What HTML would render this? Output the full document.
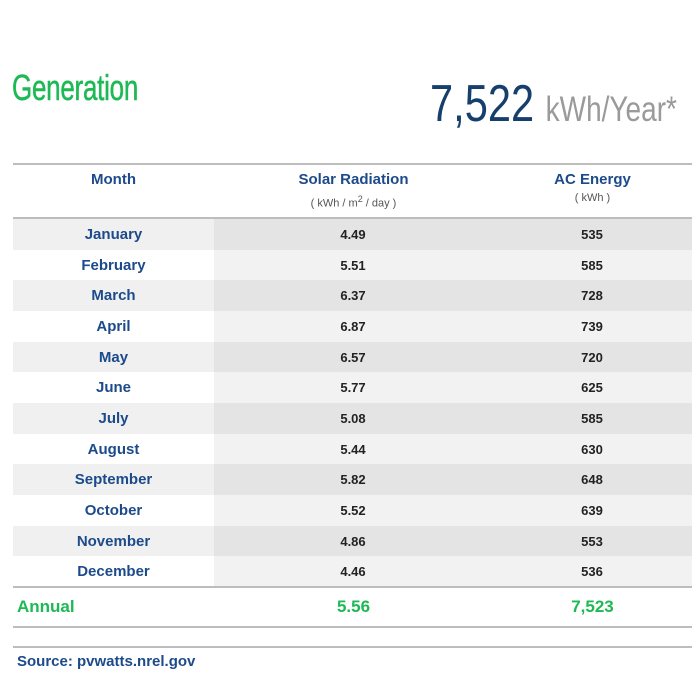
<!DOCTYPE html>
<html><head><meta charset="utf-8"><style>
body{margin:0;width:700px;height:700px;background:#fff;font-family:"Liberation Sans",sans-serif;position:relative;overflow:hidden}
.a{position:absolute}
.gen{left:12px;top:67px;font-size:36px;color:#1db954;transform:scaleX(0.72);transform-origin:left;letter-spacing:-0.3px;-webkit-text-stroke:0.5px #1db954}
.big{left:430px;top:74px;font-size:52px;color:#173f6b;transform:scaleX(0.8);transform-origin:left;white-space:nowrap}
.big span{color:#9a9a9a;font-size:35px}
.line{left:13px;width:679px;height:2px;background:#bdbdbd}
.row{position:absolute;left:13px;width:679px;height:31px;display:flex;font-size:15px;font-weight:bold;line-height:31px}
.row div{text-align:center}
.c1{width:201px;color:#1c4a8a}
.c2{width:278px}.c3{width:200px}
.c2,.c3{font-size:13px;color:#222}
.o .c1{background:#f0f0f0}.o .c2,.o .c3{background:#e4e4e4}
.e .c1{background:#fff}.e .c2,.e .c3{background:#f2f2f2}
.h{color:#1c4a8a;font-weight:bold;font-size:15px;text-align:center}
.s{color:#555;font-size:11px;text-align:center;font-weight:normal}
</style></head><body>
<div class="a gen">Generation</div>
<div class="a big">7,522 <span>kWh/Year*</span></div>
<div class="a line" style="top:163px"></div>
<div class="a h" style="left:13px;width:201px;top:171px">Month</div>
<div class="a h" style="left:234px;width:239px;top:171px">Solar Radiation</div>
<div class="a s" style="left:234px;width:239px;top:194px">( kWh / m<sup style="font-size:9px">2</sup> / day )</div>
<div class="a h" style="left:473px;width:239px;top:171px">AC Energy</div>
<div class="a s" style="left:473px;width:239px;top:192px">( kWh )</div>
<div class="a line" style="top:217px"></div>
<div class="row o" style="top:219px"><div class="c1">January</div><div class="c2">4.49</div><div class="c3">535</div></div>
<div class="row e" style="top:249.7px"><div class="c1">February</div><div class="c2">5.51</div><div class="c3">585</div></div>
<div class="row o" style="top:280.3px"><div class="c1">March</div><div class="c2">6.37</div><div class="c3">728</div></div>
<div class="row e" style="top:311px"><div class="c1">April</div><div class="c2">6.87</div><div class="c3">739</div></div>
<div class="row o" style="top:341.7px"><div class="c1">May</div><div class="c2">6.57</div><div class="c3">720</div></div>
<div class="row e" style="top:372.3px"><div class="c1">June</div><div class="c2">5.77</div><div class="c3">625</div></div>
<div class="row o" style="top:403px"><div class="c1">July</div><div class="c2">5.08</div><div class="c3">585</div></div>
<div class="row e" style="top:433.7px"><div class="c1">August</div><div class="c2">5.44</div><div class="c3">630</div></div>
<div class="row o" style="top:464.3px"><div class="c1">September</div><div class="c2">5.82</div><div class="c3">648</div></div>
<div class="row e" style="top:495px"><div class="c1">October</div><div class="c2">5.52</div><div class="c3">639</div></div>
<div class="row o" style="top:525.7px"><div class="c1">November</div><div class="c2">4.86</div><div class="c3">553</div></div>
<div class="row e" style="top:556.3px"><div class="c1">December</div><div class="c2">4.46</div><div class="c3">536</div></div>
<div class="a line" style="top:586px"></div>
<div class="a" style="left:17px;top:597px;font-size:17px;font-weight:bold;color:#1db954">Annual</div>
<div class="a" style="left:234px;width:239px;top:597px;font-size:17px;font-weight:bold;color:#1db954;text-align:center">5.56</div>
<div class="a" style="left:473px;width:239px;top:597px;font-size:17px;font-weight:bold;color:#1db954;text-align:center">7,523</div>
<div class="a line" style="top:626px"></div>
<div class="a line" style="top:646px"></div>
<div class="a" style="left:17px;top:653px;font-size:15px;font-weight:bold;color:#1c4a8a">Source: pvwatts.nrel.gov</div>
</body></html>
